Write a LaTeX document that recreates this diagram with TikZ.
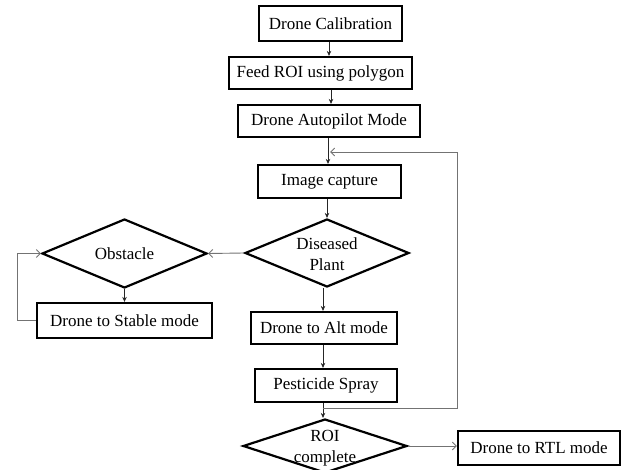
\documentclass[tikz,border=0pt]{standalone}
\usepackage{fontspec}
\setmainfont{Liberation Serif}
\usetikzlibrary{shapes.geometric,arrows.meta}
\begin{document}
\begin{tikzpicture}[x=1pt,y=-1pt,
  box/.style={draw=black,line width=2.2pt,rectangle,inner sep=0pt,font=\fontsize{17}{20}\selectfont},
  dia/.style={draw=black,line width=2.2pt,diamond,inner sep=0pt,minimum width=#1},
  txt/.style={inner sep=0pt,align=center,font=\fontsize{17}{21}\selectfont},
  arr/.style={draw=black!85,line width=0.9pt,-{Stealth[length=5pt,width=4.5pt]}},
  garr/.style={draw=black!55,line width=0.9pt,-{Straight Barb[length=4pt,width=8pt]}}]
\useasboundingbox (0,0) rectangle (631,470);
\node[box,minimum width=143,minimum height=35] (cal) at (330.5,23.5) {Drone Calibration};
\node[box,minimum width=183,minimum height=32] (roi) at (320.5,73) {Feed ROI using polygon};
\node[box,minimum width=182,minimum height=32] (auto) at (329,121) {Drone Autopilot Mode};
\node[box,minimum width=143,minimum height=33] (img) at (329.5,181.5) {Image capture};
\node[dia=164,minimum height=68] (dis) at (327,253) {};
\node[txt] (distxt) at (327,254) {Diseased\\Plant};
\node[dia=165,minimum height=69] (obs) at (124.5,253.5) {};
\node[txt] (obstxt) at (124.5,254) {Obstacle};
\node[box,minimum width=175,minimum height=35] (stab) at (124.5,320.5) {Drone to Stable mode};
\node[box,minimum width=146,minimum height=32] (alt) at (324,328) {Drone to Alt mode};
\node[box,minimum width=142,minimum height=33] (pest) at (326,385.5) {Pesticide Spray};
\node[dia=164,minimum height=54] (done) at (325,446) {};
\node[txt] (donetxt) at (325,448) {ROI\\complete};
\node[box,minimum width=162,minimum height=34] (rtl) at (539,448) {Drone to RTL mode};

\draw[arr] (cal.south -| 329,0) -- (roi.north -| 329,0);
\draw[arr] (roi.south -| 331,0) -- (auto.north -| 331,0);
\draw[arr] (auto.south -| 328,0) -- (img.north -| 328,0);
\draw[arr] (img.south -| 327,0) -- (dis.north);
\draw[arr] (dis.south -| 323,0) -- (alt.north -| 323,0);
\draw[arr] (alt.south -| 323,0) -- (pest.north -| 323,0);
\draw[arr] (pest.south -| 323,0) -- (done.north -| 323,0);
\draw[arr] (obs.south) -- (stab.north -| obs.south);
\draw[garr] (dis.west) -- (obs.east);
\draw[garr] (done.east) -- (rtl.west |- done.east);
\coordinate (j1) at (323,408);
\coordinate (j2) at (457,408);
\coordinate (j3) at (457,152);
\coordinate (j4) at (330,152);
\draw[garr] (j1) -- (j2) -- (j3) -- (j4);
\coordinate (k1) at (17,320.5);
\coordinate (k2) at (17,253.5);
\draw[garr] (stab.west) -- (k1) -- (k2) -- (obs.west);
\end{tikzpicture}
\end{document}
